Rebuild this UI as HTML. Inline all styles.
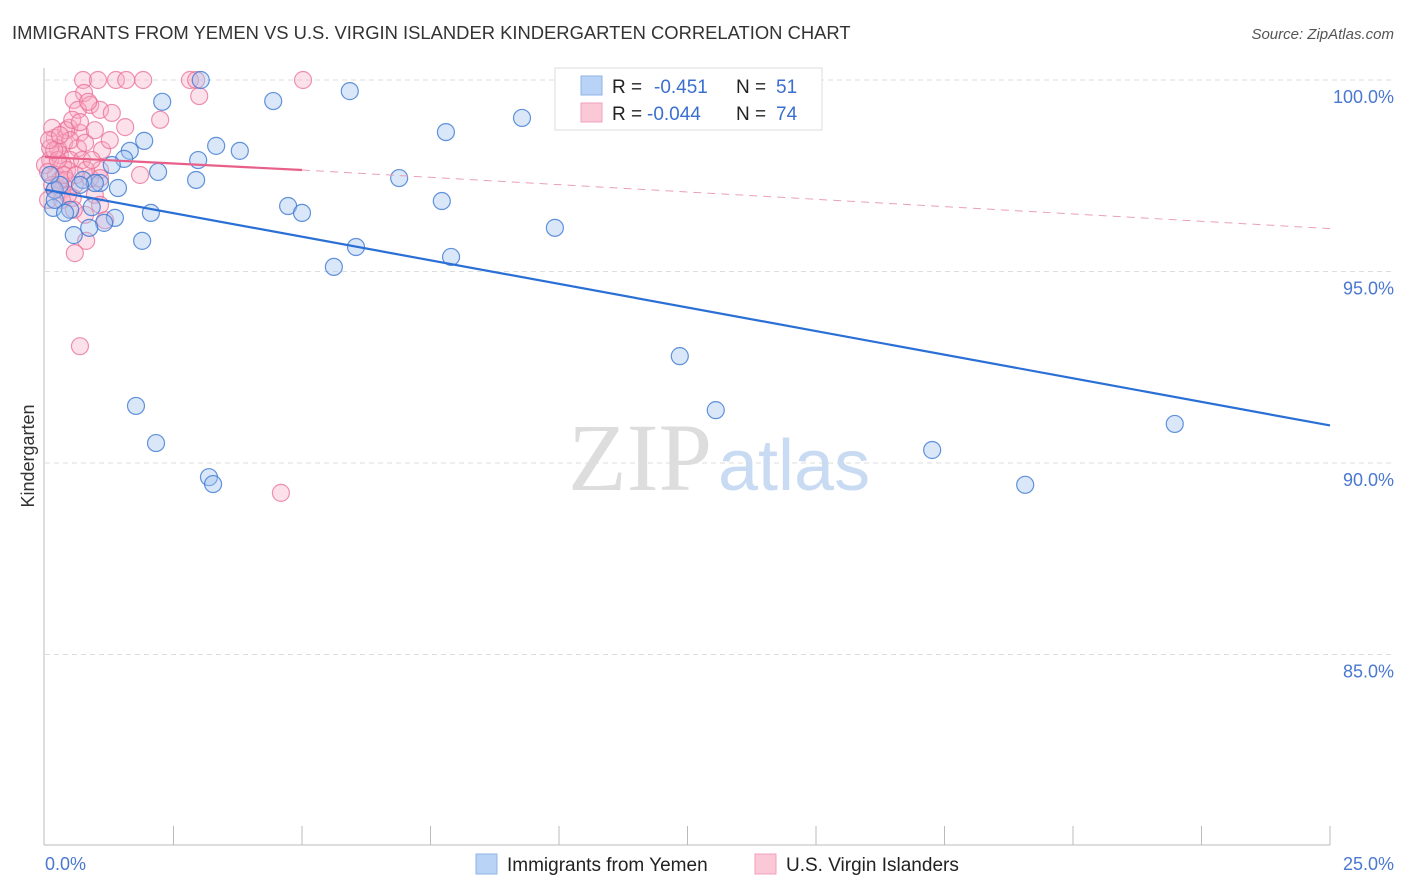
<!DOCTYPE html>
<html><head><meta charset="utf-8"><style>
body{margin:0;background:#fff;font-family:"Liberation Sans",sans-serif;}
#c{position:absolute;left:0;top:0;}
</style></head><body>
<svg id="c" width="1406" height="892">
<text x="12" y="39" font-size="18.4" fill="#333">IMMIGRANTS FROM YEMEN VS U.S. VIRGIN ISLANDER KINDERGARTEN CORRELATION CHART</text>
<text x="1394" y="39" font-size="15" fill="#555" font-style="italic" text-anchor="end">Source: ZipAtlas.com</text>
<g id="grid"></g>
<text x="712" y="490" font-size="96" fill="#ddd" font-family="Liberation Serif" text-anchor="end">ZIP</text>
<text x="718" y="490" font-size="72" fill="#c9dbf2">atlas</text>
<line x1="44" y1="68" x2="44" y2="845" stroke="#bbb"/>
<line x1="44" y1="845" x2="1330" y2="845" stroke="#bbb"/>
<text x="34" y="456" font-size="18" fill="#333" transform="rotate(-90 34 456)" text-anchor="middle">Kindergarten</text>
<text x="45" y="870" font-size="18" fill="#4a78d0">0.0%</text>
<text x="1394" y="870" font-size="18" fill="#4a78d0" text-anchor="end">25.0%</text>
<g id="pts"></g>
<g>
<rect x="555" y="68" width="267" height="62" fill="#fff" stroke="#ddd"/>
<rect x="581" y="76" width="21" height="19" fill="#b8d3f5" stroke="#8fb3e6"/>
<rect x="581" y="103" width="21" height="19" fill="#fbc8d8" stroke="#f0a0bb"/>
<text x="612" y="93" font-size="19" fill="#222">R = <tspan x="654" fill="#3a6fd0">-0.451</tspan><tspan x="736" fill="#222">N = </tspan><tspan x="776" fill="#3a6fd0">51</tspan></text>
<text x="612" y="120" font-size="19" fill="#222">R = <tspan x="647" fill="#3a6fd0">-0.044</tspan><tspan x="736" fill="#222">N = </tspan><tspan x="776" fill="#3a6fd0">74</tspan></text>
</g>
<g>
<rect x="476" y="854" width="21" height="20" fill="#b8d3f5" stroke="#8fb3e6"/>
<text x="507" y="871" font-size="19" fill="#222">Immigrants from Yemen</text>
<rect x="755" y="854" width="21" height="20" fill="#fbc8d8" stroke="#f0a0bb"/>
<text x="786" y="871" font-size="19" fill="#222">U.S. Virgin Islanders</text>
</g>
</svg>
<script>
const yTicks=[100,95,90,85];
const yTickLabels=["100.0%","95.0%","90.0%","85.0%"];
const xTicks=[0,2.5,5,7.5,10,12.5,15,17.5,20,22.5,25];
const blueX=[3.03,2.28,4.44,5.93,9.28,7.80,1.93,3.33,3.79,1.65,1.54,2.98,1.30,2.20,6.89,2.94,0.74,1.07,1.42,0.19,4.73,5.00,7.72,9.92,0.16,0.49,0.91,2.06,1.36,1.15,0.86,0.56,1.89,6.05,7.90,5.62,12.35,13.05,1.77,2.16,17.26,3.19,3.27,19.07,21.98,0.39,0.29,0.10,0.97,0.19,0.68];
const blueY=[100.0,99.43,99.45,99.71,99.01,98.64,98.41,98.28,98.15,98.15,97.94,97.91,97.78,97.60,97.44,97.39,97.39,97.31,97.18,97.13,96.71,96.53,96.84,96.14,96.66,96.61,96.68,96.53,96.40,96.27,96.14,95.95,95.80,95.64,95.38,95.12,92.79,91.38,91.49,90.52,90.34,89.63,89.45,89.43,91.02,96.53,97.26,97.52,97.31,96.87,97.26];
const pinkX=[0.74,1.03,1.38,1.58,1.91,2.82,2.94,5.02,0.76,3.00,0.56,0.88,0.64,1.07,2.24,1.30,1.56,0.47,0.68,0.19,0.37,0.64,1.11,0.29,0.49,0.10,0.35,1.07,1.85,0.21,0.58,0.33,0.97,0.06,0.54,1.07,0.78,1.17,0.80,0.58,0.68,4.59,0.41,0.25,0.49,0.78,0.10,0.29,0.14,0.43,0.00,0.88,0.53,0.84,0.41,0.19,0.72,0.06,0.25,0.33,0.14,0.68,0.97,1.26,0.80,0.37,0.18,0.45,0.60,0.91,1.07,0.08,0.29,0.56];
const pinkY=[100,100,100,100,100,100,100,100,99.66,99.58,99.48,99.35,99.22,99.22,98.96,99.14,98.77,98.75,98.62,98.49,98.36,98.22,98.17,98.04,97.91,97.91,97.78,97.65,97.52,97.52,97.26,97.13,97.00,96.87,96.92,96.74,96.48,96.34,95.80,95.48,93.05,89.22,98.69,98.22,98.43,98.36,98.22,97.39,97.26,97.65,97.78,97.44,98.96,99.43,97.39,97.13,97.91,97.60,97.91,96.87,98.75,98.90,98.69,98.43,97.65,97.52,98.17,97.00,97.52,97.91,97.44,98.43,98.56,96.61];
const blueTrend=[[0,97.14],[25,90.98]];
const pinkTrend=[[0,97.99],[5,97.65],[25,96.12]];
const sx=v=>45+v*51.4;
const sy=v=>80+(100-v)*38.3;
const NS="http://www.w3.org/2000/svg";
const grid=document.getElementById('grid');
yTicks.forEach((t,i)=>{
  const l=document.createElementNS(NS,'line');
  l.setAttribute('x1',45);l.setAttribute('x2',1394);
  l.setAttribute('y1',sy(t));l.setAttribute('y2',sy(t));
  l.setAttribute('stroke','#ddd');l.setAttribute('stroke-dasharray','5,4');
  
  
  grid.appendChild(l);
  const tx=document.createElementNS(NS,'text');
  tx.setAttribute('x',1394);tx.setAttribute('y',sy(t)+23);
  tx.setAttribute('text-anchor','end');tx.setAttribute('font-size','18');tx.setAttribute('fill','#4a78d0');
  tx.textContent=yTickLabels[i];
  
  
  grid.appendChild(tx);
});
xTicks.forEach((t,i)=>{
  if(i===0)return;
  const l=document.createElementNS(NS,'line');
  l.setAttribute('x1',sx(t));l.setAttribute('x2',sx(t));
  l.setAttribute('y1',826);l.setAttribute('y2',845);
  l.setAttribute('stroke','#bbb');
  
  
  grid.appendChild(l);
});
const pts=document.getElementById('pts');
function dot(x,y,fill,stroke,name){
  const c=document.createElementNS(NS,'circle');
  c.setAttribute('cx',sx(x));c.setAttribute('cy',sy(y));c.setAttribute('r',8.5);
  c.setAttribute('fill',fill);c.setAttribute('stroke',stroke);c.setAttribute('stroke-width',1.2);
  
  
  pts.appendChild(c);
}
pinkX.forEach((x,i)=>dot(x,pinkY[i],'rgba(248,170,196,0.35)','rgba(232,110,150,0.75)','point-virgin-islanders'));
blueX.forEach((x,i)=>dot(x,blueY[i],'rgba(160,196,240,0.4)','rgba(60,120,210,0.8)','point-yemen'));
function line(a,b,col,w,dash,name){
  const l=document.createElementNS(NS,'line');
  l.setAttribute('x1',sx(a[0]));l.setAttribute('y1',sy(a[1]));
  l.setAttribute('x2',sx(b[0]));l.setAttribute('y2',sy(b[1]));
  l.setAttribute('stroke',col);l.setAttribute('stroke-width',w);
  if(dash)l.setAttribute('stroke-dasharray',dash);
  
  
  pts.appendChild(l);
}
line(blueTrend[0],blueTrend[1],'#2a6fd6',2.2,null,'trend-line-yemen');
line(pinkTrend[0],pinkTrend[1],'#e8608a',2.2,null,'trend-line-virgin-solid');
line(pinkTrend[1],pinkTrend[2],'#eaa0b8',1,'8,6','trend-line-virgin-dashed');
</script>
</body></html>
